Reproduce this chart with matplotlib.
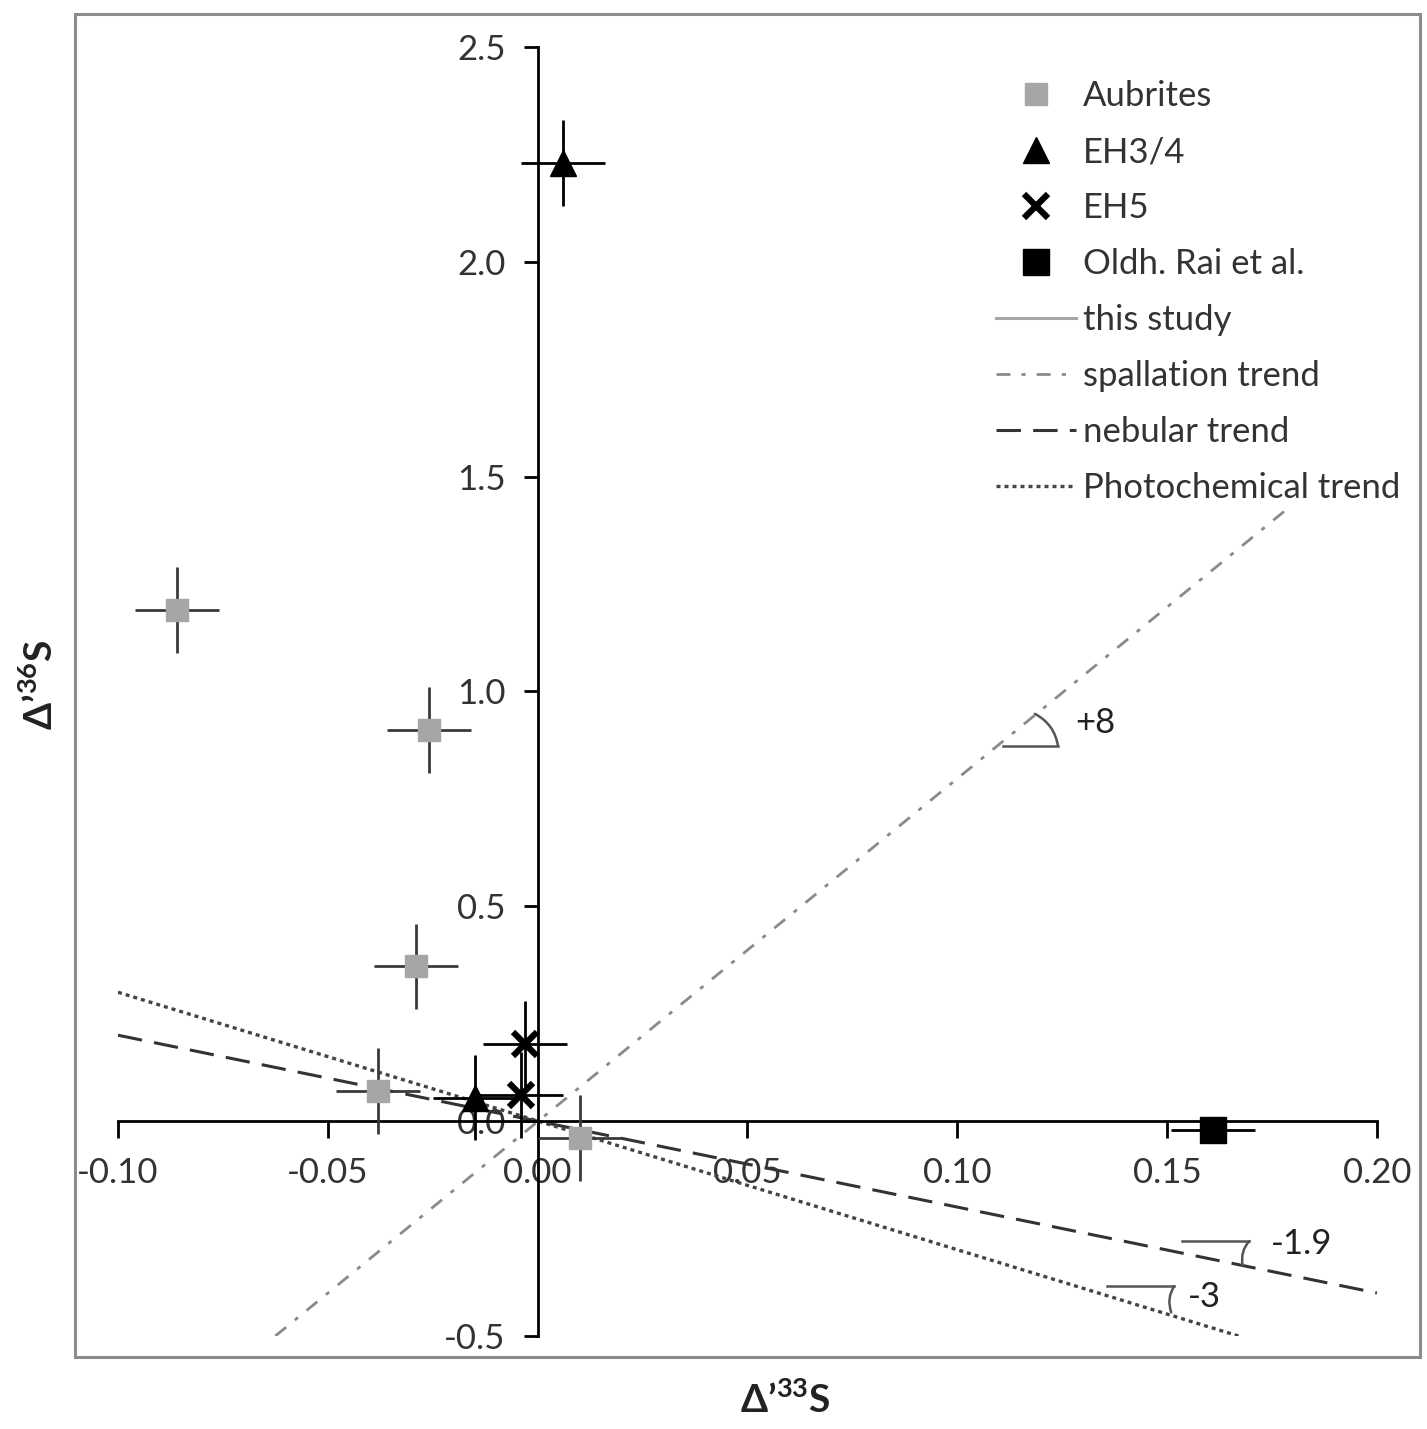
import numpy as np
import matplotlib
matplotlib.use("Agg")
import matplotlib.pyplot as plt
from matplotlib.patches import Rectangle

plt.rcParams["font.family"] = ["Lato", "DejaVu Sans"]
plt.rcParams["axes.unicode_minus"] = False
plt.rcParams["mathtext.fontset"] = "custom"
plt.rcParams["mathtext.rm"] = "Lato"
plt.rcParams["mathtext.bf"] = "Lato:bold"

# ---- data ----
aub_x = [-0.086, -0.026, -0.029, -0.038, 0.010]
aub_y = [1.19, 0.91, 0.36, 0.07, -0.04]
aub_xerr = [0.01, 0.01, 0.01, 0.01, 0.01]
aub_yerr = [0.10, 0.10, 0.10, 0.10, 0.10]

eh34_x = [0.006, -0.015]
eh34_y = [2.23, 0.055]
eh34_xerr = [0.01, 0.01]
eh34_yerr = [0.10, 0.10]

eh5_x = [-0.003, -0.004]
eh5_y = [0.18, 0.06]
eh5_xerr = [0.01, 0.01]
eh5_yerr = [0.10, 0.10]

oldh_x = [0.161]
oldh_y = [-0.02]
oldh_xerr = [0.01]
oldh_yerr = [0.01]

spall_x = [-0.0625, 0.178]
spall_y = [-0.50, 1.42]
neb_x = [-0.10, 0.20]
neb_y = [0.20, -0.40]
photo_x = [-0.10, 0.167]
photo_y = [0.30, -0.50]

x_ticks = [-0.10, -0.05, 0.00, 0.05, 0.10, 0.15, 0.20]
y_ticks = [-0.5, 0.0, 0.5, 1.0, 1.5, 2.0, 2.5]

# slope annotations: (label, x_start, x_end, y_level, arc end x, arc end y, text x, text y)
slope_marks = [
    ("+8", 0.111, 0.124, 0.873, 0.1185, 0.948, 0.128, 0.926),
    ("-1.9", 0.1536, 0.1696, -0.279, 0.168, -0.335, 0.1748, -0.286),
    ("-3", 0.1357, 0.1517, -0.384, 0.151, -0.445, 0.155, -0.41),
]

FS = 25

fig = plt.figure(figsize=(14.27, 14.29), dpi=100)
ax = fig.add_axes([0.0827, 0.0651, 0.8822, 0.9020])

# outer frame around the chart
fig.patches.append(Rectangle((0.0526, 0.0504), 0.9424, 0.9396, transform=fig.transFigure,
                             fill=False, edgecolor="#8c8c8c", linewidth=2.2))

# trend lines
ax.plot(spall_x, spall_y, color="#8a8a8a", lw=2.0, ls=(0, (5, 4, 1.5, 4)), zorder=2)
ax.plot(neb_x, neb_y, color="#333333", lw=2.2, ls=(0, (8, 4)), zorder=2)
ax.plot(photo_x, photo_y, color="#444444", lw=2.4, ls=(0, (1.2, 1.2)), zorder=2)

ebkw = dict(fmt="none", capsize=0, elinewidth=2.0, zorder=3)
ax.errorbar(aub_x, aub_y, xerr=aub_xerr, yerr=aub_yerr, ecolor="#3a3a3a", **ebkw)
ax.errorbar(eh34_x, eh34_y, xerr=eh34_xerr, yerr=eh34_yerr, ecolor="black", **ebkw)
ax.errorbar(eh5_x, eh5_y, xerr=eh5_xerr, yerr=eh5_yerr, ecolor="black", **ebkw)
ax.errorbar(oldh_x, oldh_y, xerr=oldh_xerr, yerr=oldh_yerr, ecolor="black", **ebkw)

ax.plot(aub_x, aub_y, ls="none", marker="s", ms=16, color="#a6a6a6", zorder=4, label="Aubrites")
ax.plot(eh34_x, eh34_y, ls="none", marker="^", ms=19, color="black", zorder=4, label="EH3/4")
ax.plot(eh5_x, eh5_y, ls="none", marker="x", ms=17, mew=4.5, color="black", zorder=4, label="EH5")
ax.plot(oldh_x, oldh_y, ls="none", marker="s", ms=19, color="black", zorder=4, label="Oldh. Rai et al.")
ax.plot([], [], color="#a6a6a6", lw=2.2, label="this study")
ax.plot([], [], color="#8a8a8a", lw=2.0, ls=(0, (5, 4, 1.5, 4)), label="spallation trend")
ax.plot([], [], color="#333333", lw=2.2, ls=(0, (8, 4)), label="nebular trend")
ax.plot([], [], color="#444444", lw=2.4, ls=(0, (1.2, 1.2)), label="Photochemical trend")

# slope markers
for lab, xs, xe, yl, ax2, ay2, tx, ty in slope_marks:
    ax.plot([xs, xe], [yl, yl], color="#555555", lw=1.8, zorder=2)
    ax.annotate("", xy=(ax2, ay2), xytext=(xe, yl),
                arrowprops=dict(arrowstyle="-", color="#555555", lw=1.8,
                                connectionstyle="arc3,rad=0.25", shrinkA=0, shrinkB=0))
    ax.text(tx, ty, lab, fontsize=FS, color="#222222", va="center", ha="left")

ax.set_xlim(-0.10, 0.20)
ax.set_ylim(-0.5, 2.5)
ax.spines["left"].set_position(("data", 0))
ax.spines["bottom"].set_position(("data", 0))
ax.spines["top"].set_visible(False)
ax.spines["right"].set_visible(False)
for s in ("left", "bottom"):
    ax.spines[s].set_linewidth(2.0)
    ax.spines[s].set_color("black")
ax.set_xticks(x_ticks)
ax.set_xticklabels([f"{v:.2f}" for v in x_ticks])
ax.set_yticks(y_ticks)
ax.set_yticklabels([f"{v:.1f}" for v in y_ticks])
ax.tick_params(axis="x", direction="out", length=12, width=2, pad=14, labelsize=FS, labelcolor="#333333")
ax.tick_params(axis="y", direction="out", length=10, width=2, pad=13, labelsize=FS, labelcolor="#333333")
ax.patch.set_visible(False)

fig.text(785 / 1427, 1 - 1400 / 1429, r"$\mathbf{\Delta}$’$^{\mathbf{33}}$S", fontsize=28,
         fontweight="bold", ha="center", va="center", color="#222222")
fig.text(40 / 1427, 1 - 685 / 1429, r"$\mathbf{\Delta}$’$^{\mathbf{36}}$S", fontsize=28,
         fontweight="bold", ha="center", va="center", rotation=90, color="#222222")

ax.legend(loc="upper left", bbox_to_anchor=(0.6856, 0.956), bbox_transform=fig.transFigure,
          frameon=False, fontsize=FS, handlelength=2.3, handletextpad=0.22,
          labelspacing=0.69, borderpad=0, labelcolor="#333333")

fig.savefig("out.png", dpi=100)
